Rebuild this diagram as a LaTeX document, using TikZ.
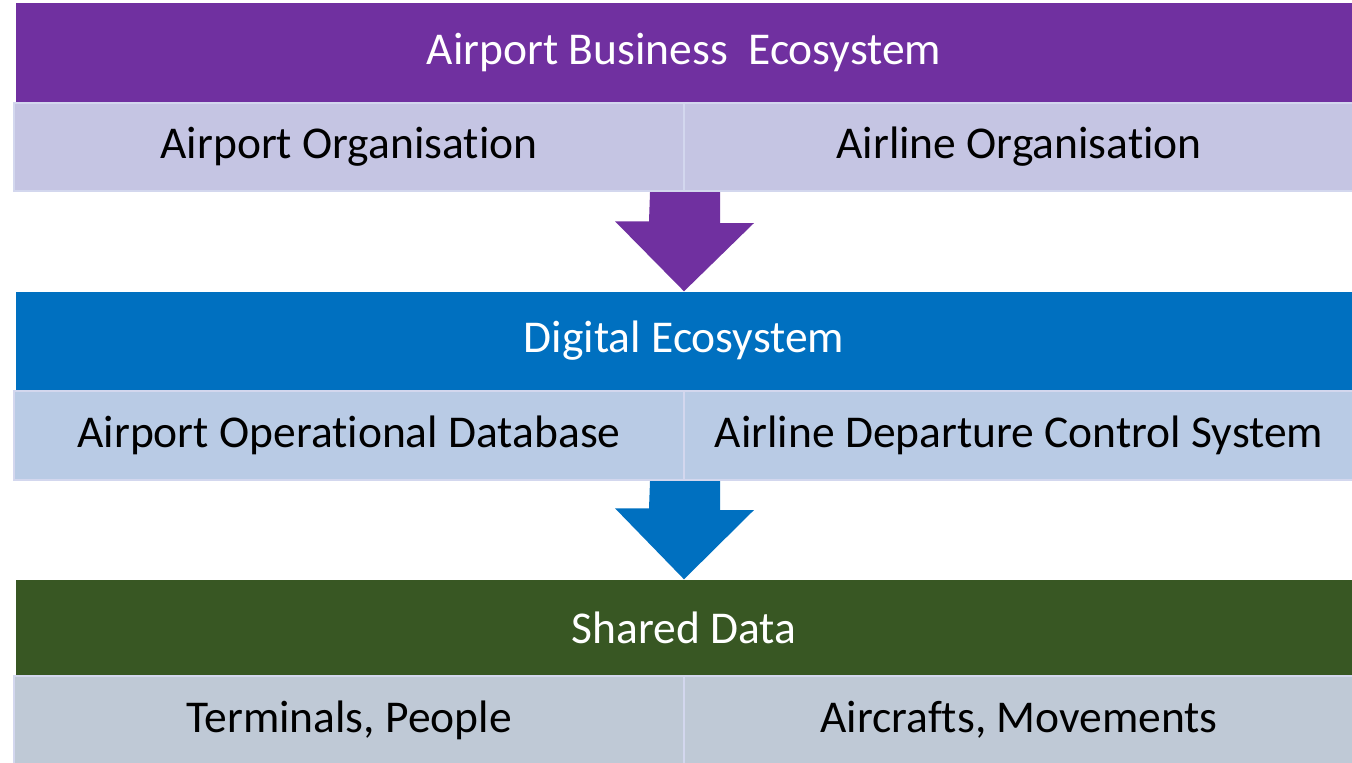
\documentclass[tikz,border=0pt]{standalone}
\usepackage{fontspec}
\setmainfont{Carlito}[Ligatures=NoCommon]
\usetikzlibrary{calc}

\definecolor{purpleA}{HTML}{7030A0}
\definecolor{purpleL}{HTML}{C5C5E3}
\definecolor{blueA}{HTML}{0070C0}
\definecolor{blueL}{HTML}{B9CBE5}
\definecolor{greenA}{HTML}{385723}
\definecolor{grayL}{HTML}{BFC9D6}
\definecolor{cellline}{HTML}{D3D7EE}

\begin{document}
\begin{tikzpicture}[
    band/.style={
        rectangle,
        inner sep=0pt,
        minimum width=13.36cm,
        text=white,
        font=\fontsize{12.95}{15}\selectfont
    },
    cell/.style={
        rectangle,
        draw=cellline,
        line width=0.02cm,
        inner sep=0pt,
        minimum width=6.70cm,
        minimum height=0.88cm,
        font=\fontsize{12.95}{15}\selectfont
    }
]
\useasboundingbox (0,0) rectangle (13.52,-7.62);

% Business level
\node[band, fill=purpleA, minimum height=0.99cm] (business) at (6.84,-0.525) {Airport Business\ \ Ecosystem};
\node[cell, fill=purpleL] (airportOrg) at (3.49,-1.47) {Airport Organisation};
\node[cell, fill=purpleL] (airlineOrg) at (10.19,-1.47) {Airline Organisation};

% Digital level
\node[band, fill=blueA, minimum height=0.98cm] (digital) at (6.84,-3.41) {Digital Ecosystem};
\node[cell, fill=blueL, minimum height=0.89cm] (aodb) at (3.49,-4.355) {Airport Operational Database};
\node[cell, fill=blueL, minimum height=0.89cm] (dcs) at (10.19,-4.355) {Airline Departure Control System};

% Data level
\node[band, fill=greenA, minimum height=0.96cm] (shared) at (6.84,-6.28) {Shared Data};
\node[cell, fill=grayL] (terminals) at (3.49,-7.20) {Terminals, People};
\node[cell, fill=grayL] (aircrafts) at (10.19,-7.20) {Aircrafts, Movements};

% Arrows
\fill[purpleA] ($(airportOrg.south east)+(-0.35,0)$) -- ++(0.70,0) -- ++(0,-0.31) -- ++(0.34,0)
    -- (digital.north) -- ++(-0.69,0.70) -- ++(0.34,0) -- cycle;
\fill[blueA] ($(aodb.south east)+(-0.35,0)$) -- ++(0.70,0) -- ++(0,-0.29) -- ++(0.34,0)
    -- (shared.north) -- ++(-0.69,0.71) -- ++(0.34,0) -- cycle;

\end{tikzpicture}
\end{document}
